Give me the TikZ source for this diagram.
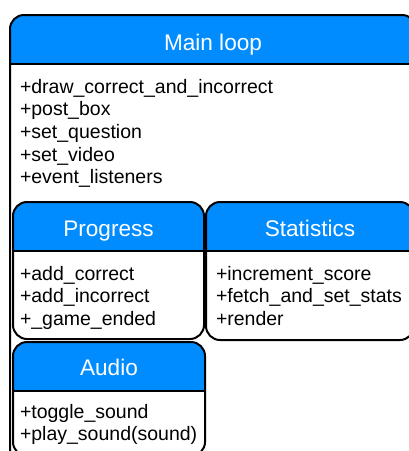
\documentclass[tikz,border=0pt]{standalone}
\usepackage{fontspec}
\setmainfont{Liberation Sans}
\usetikzlibrary{positioning}
\definecolor{hdr}{HTML}{008CFF}
\tikzset{
  every node/.style={inner sep=0pt,outer sep=0pt},
  cls/.style={draw=black,line width=2pt,fill=white,rounded corners=14pt,
    path picture={
      \fill[hdr,draw=none,sharp corners] (path picture bounding box.north west)
        rectangle ([yshift=-48.5pt]path picture bounding box.north east);
      \draw[black,line width=2pt,sharp corners]
        ([yshift=-48.5pt]path picture bounding box.north west)
        -- ([yshift=-48.5pt]path picture bounding box.north east);}},
  ttl/.style={anchor=base,text=white,font=\fontsize{22.6}{27}\selectfont},
  ops/.style={anchor=north west,align=left,font=\fontsize{19.5}{22.7}\selectfont},
}
\begin{document}
\begin{tikzpicture}[x=1pt,y=-1pt]
\useasboundingbox (0,0) rectangle (409,451);
\clip (0,0) rectangle (409,451);
% main loop
\node[cls,minimum width=406pt,minimum height=465pt] (main) at (213,247.5) {};
\node[ttl] (maintitle) at ([yshift=-35pt]main.north) {Main loop};
\node[ops] (mainops) at ([xshift=10pt,yshift=-64pt]main.north west)
 {+draw\_correct\_and\_incorrect\\+post\_box\\+set\_question\\+set\_video\\+event\_listeners};
% progress
\node[cls,minimum width=191pt,minimum height=137pt] (prog) at (108.5,270.5) {};
\node[ttl] (progtitle) at ([yshift=-34pt]prog.north) {Progress};
\node[ops] (progops) at ([xshift=7pt,yshift=-64pt]prog.north west)
 {+add\_correct\\+add\_incorrect\\+\_game\_ended};
% statistics
\node[cls,minimum width=208pt,minimum height=138pt] (stats) at (310,271) {};
\node[ttl] (statstitle) at ([yshift=-34pt]stats.north) {Statistics};
\node[ops] (statsops) at ([xshift=10pt,yshift=-64pt]stats.north west)
 {+increment\_score\\+fetch\_and\_set\_stats\\+render};
% audio
\node[cls,minimum width=192pt,minimum height=114pt] (audio) at (109,399) {};
\node[ttl] (audiotitle) at ([yshift=-33pt]audio.north) {Audio};
\node[ops] (audioops) at ([xshift=7pt,yshift=-62pt]audio.north west)
 {+toggle\_sound\\+play\_sound(sound)};
\end{tikzpicture}
\end{document}
